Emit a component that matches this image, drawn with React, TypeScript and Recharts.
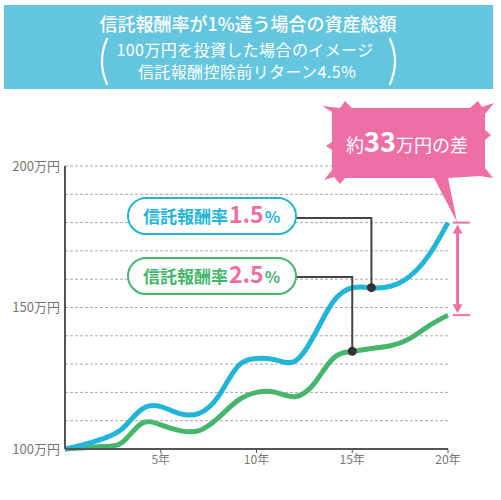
import React from "react";
import { LineChart, Line, XAxis, YAxis, ReferenceLine } from "recharts";

const years = [0, 1, 2, 3, 4, 5, 6, 7, 8, 9, 10, 11, 12, 13, 14, 15, 16, 17, 18, 19, 20];
const fee15 = [100, 101.6, 103.7, 107.2, 114, 115, 112.5, 112.6, 118.5, 129, 132, 131.5, 131, 140, 152, 157, 157, 157.5, 161, 168.5, 180];
const fee25 = [100, 100.4, 100.9, 102.4, 109, 108.5, 106.5, 106.5, 111, 117, 120, 120, 118.5, 123, 132, 134.5, 135.5, 136.5, 139, 143.5, 147.3];
const gridValues = [110, 120, 130, 140, 150, 160, 170, 180, 190, 200];
const yTicks = [100, 150, 200];
const xTicks = [5, 10, 15, 20];

const data = years.map((year, i) => ({ year, fee15: fee15[i], fee25: fee25[i] }));

const BLUE = "#22b5d8";
const GREEN = "#46b66d";
const PINK = "#ee6fa6";
const FONT = "'Noto Sans CJK JP', 'Noto Sans', sans-serif";

// draws the black dot on one point plus the connector back to its label pill
function markerDot(markIndex: number, pillRight: number, pillMid: number) {
  return (props: any) => {
    const { cx, cy, index } = props;
    if (index !== markIndex) return <g key={`d${index}`} />;
    return (
      <g key={`d${index}`}>
        <path d={`M${pillRight},${pillMid} H${cx} V${cy}`} fill="none" stroke="#444" strokeWidth={2} />
        <circle cx={cx} cy={cy} r={4.5} fill="#333" />
      </g>
    );
  };
}

function DiffArrow(props: any) {
  const { x1, y1, x2, y2 } = props;
  return (
    <g>
      <line x1={x1} y1={y1 + 6} x2={x2} y2={y2 - 6} stroke={PINK} strokeWidth={3} />
      <polygon points={`${x1},${y1 + 2} ${x1 - 5},${y1 + 11} ${x1 + 5},${y1 + 11}`} fill={PINK} />
      <polygon points={`${x2},${y2 - 2} ${x2 - 5},${y2 - 11} ${x2 + 5},${y2 - 11}`} fill={PINK} />
    </g>
  );
}

function Pill({ y, color, rate }: { y: number; color: string; rate: string }) {
  return (
    <g>
      <rect x={128} y={y} width={168} height={36} rx={18} fill="#fff" stroke={color} strokeWidth={2} />
      <text x={143} y={y + 25} fontFamily={FONT} fontWeight={700}>
        <tspan fill={color} fontSize={17}>信託報酬率</tspan>
        <tspan fill={PINK} fontSize={23} dx={1}>{rate}</tspan>
        <tspan fill={color} fontSize={16} dx={1}>%</tspan>
      </text>
    </g>
  );
}

export default function App() {
  return (
    <div style={{ position: "absolute", left: 0, top: 0, width: 501, height: 500, background: "#fff", fontFamily: FONT }}>
      <LineChart width={501} height={500} data={data} margin={{ top: 166, right: 53, left: 5, bottom: 21 }}>
        <XAxis
          dataKey="year"
          type="number"
          domain={[0, 20]}
          ticks={xTicks}
          tickFormatter={(v) => `${v}年`}
          height={30}
          tickSize={4}
          tick={{ fill: "#777", fontSize: 12 }}
          tickLine={{ stroke: "#555" }}
          axisLine={{ stroke: "#555", strokeWidth: 2 }}
        />
        <YAxis
          type="number"
          domain={[100, 200]}
          ticks={yTicks}
          tickFormatter={(v) => `${v}万円`}
          width={60}
          tickSize={3}
          tickLine={false}
          tick={{ fill: "#777", fontSize: 13 }}
          axisLine={{ stroke: "#555", strokeWidth: 2 }}
        />
        {gridValues.map((v) => (
          <ReferenceLine key={v} y={v} stroke="#aaa" strokeDasharray="3 2" />
        ))}
        <Line
          dataKey="fee25"
          type="natural"
          stroke={GREEN}
          strokeWidth={5}
          dot={markerDot(15, 296, 277)}
          activeDot={false}
          isAnimationActive={false}
        />
        <Line
          dataKey="fee15"
          type="natural"
          stroke={BLUE}
          strokeWidth={5}
          dot={markerDot(16, 296, 218)}
          activeDot={false}
          isAnimationActive={false}
        />
        <ReferenceLine
          segment={[{ x: 20.5, y: fee15[20] }, { x: 20.5, y: fee25[20] }]}
          ifOverflow="visible"
          shape={DiffArrow}
        />
        <ReferenceLine
          segment={[{ x: 20.25, y: fee15[20] }, { x: 21.15, y: fee15[20] }]}
          ifOverflow="visible"
          stroke={PINK}
          strokeWidth={2}
        />
        <ReferenceLine
          segment={[{ x: 20.25, y: fee25[20] }, { x: 21.15, y: fee25[20] }]}
          ifOverflow="visible"
          stroke={PINK}
          strokeWidth={2}
        />
      </LineChart>

      <svg width={501} height={500} style={{ position: "absolute", left: 0, top: 0, pointerEvents: "none" }}>
        <rect x={4} y={5} width={489} height={84} fill="#64c6de" />
        <text x={248} y={31} textAnchor="middle" fill="#fff" fontSize={18} fontFamily={FONT} fontWeight={500}>
          信託報酬率が1%違う場合の資産総額
        </text>
        <text x={245} y={56} textAnchor="middle" fill="#fff" fontSize={16} fontFamily={FONT} letterSpacing={0.4}>
          100万円を投資した場合のイメージ
        </text>
        <text x={247} y={78} textAnchor="middle" fill="#fff" fontSize={16} fontFamily={FONT} letterSpacing={0.4}>
          信託報酬控除前リターン4.5%
        </text>
        <path d="M107,39 Q97,61 107,84" fill="none" stroke="#fff" strokeWidth={2.2} strokeLinecap="round" />
        <path d="M390,39 Q400,61 390,84" fill="none" stroke="#fff" strokeWidth={2.2} strokeLinecap="round" />

        <polygon
          fill={PINK}
          points="332,112 322,106 340,108 345,101 352,108 470,108 478,101 482,107 494,103 485,114 485,130 491,135 485,140 485,168 493,178 480,176 448,178 457,222 434,178 345,178 340,184 334,177 324,180 332,170 332,150 326,146 332,142"
        />
        <text x={407} y={152} textAnchor="middle" fill="#fff" fontFamily={FONT}>
          <tspan fontSize={18}>約</tspan>
          <tspan fontSize={27} fontWeight={700}>33</tspan>
          <tspan fontSize={18}>万円の差</tspan>
        </text>

        <Pill y={198} color={BLUE} rate="1.5" />
        <Pill y={258} color={GREEN} rate="2.5" />
      </svg>
    </div>
  );
}
